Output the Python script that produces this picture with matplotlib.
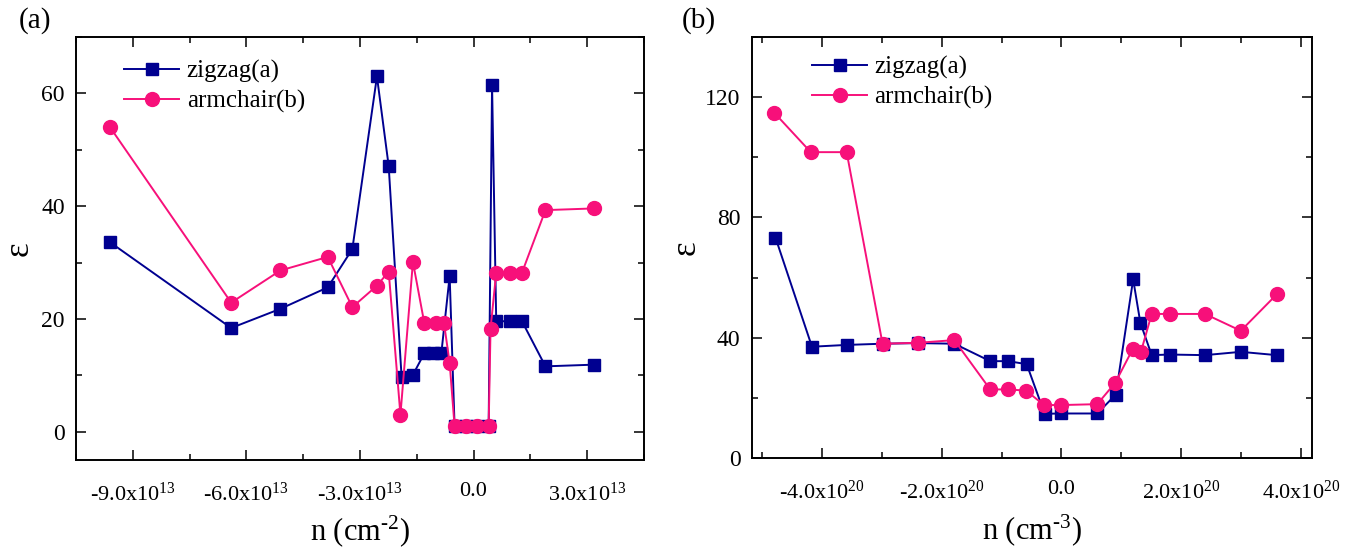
import matplotlib
matplotlib.use('Agg')
import matplotlib.pyplot as plt
from matplotlib.ticker import MultipleLocator, FixedLocator

plt.rcParams['font.family'] = ['Liberation Serif', 'DejaVu Serif']
plt.rcParams['mathtext.fontset'] = 'custom'
plt.rcParams['mathtext.rm'] = 'Liberation Serif'
plt.rcParams['mathtext.it'] = 'Liberation Serif:italic'

# panel (a): n in units of 1e13 cm^-2
zig_a_n = [-9.6, -6.4, -5.1, -3.85, -3.2, -2.55, -2.24, -1.9, -1.6, -1.3, -1.07, -0.85,
           -0.63, -0.5, -0.2, 0.1, 0.4, 0.49, 0.6, 0.97, 1.28, 1.9, 3.18]
zig_a_eps = [33.6, 18.4, 21.8, 25.6, 32.4, 63.0, 47.1, 9.8, 10.1, 13.9, 13.9, 13.9,
             27.6, 1.0, 1.0, 1.0, 1.0, 61.5, 19.6, 19.6, 19.6, 11.6, 11.9]
arm_a_n = [-9.6, -6.4, -5.1, -3.85, -3.2, -2.55, -2.24, -1.93, -1.6, -1.3, -1.0, -0.78,
           -0.63, -0.5, -0.2, 0.1, 0.4, 0.45, 0.6, 0.97, 1.28, 1.9, 3.18]
arm_a_eps = [54.0, 22.9, 28.6, 31.0, 22.1, 25.9, 28.4, 3.0, 30.1, 19.3, 19.3, 19.3,
             12.2, 1.0, 1.0, 1.0, 1.0, 18.3, 28.2, 28.2, 28.2, 39.3, 39.6]

# panel (b): n in units of 1e20 cm^-3
zig_b_n = [-4.78, -4.17, -3.59, -2.99, -2.39, -1.79, -1.19, -0.89, -0.58, -0.28, 0.0,
           0.6, 0.91, 1.2, 1.32, 1.51, 1.81, 2.4, 3.0, 3.6]
zig_b_eps = [73.3, 37.0, 37.6, 38.0, 38.2, 38.0, 32.2, 32.2, 31.2, 14.7, 14.8,
             14.8, 21.1, 59.4, 45.0, 34.2, 34.4, 34.2, 35.3, 34.2]
arm_b_n = [-4.8, -4.19, -3.59, -2.99, -2.4, -1.79, -1.19, -0.89, -0.59, -0.29, 0.0,
           0.6, 0.9, 1.19, 1.33, 1.51, 1.81, 2.4, 3.0, 3.6]
arm_b_eps = [114.8, 101.7, 101.7, 38.0, 38.3, 39.2, 22.8, 22.8, 22.4, 17.6, 17.6,
             17.9, 25.0, 36.1, 35.3, 47.9, 47.9, 47.9, 42.3, 54.4]

xticks_a = [-9, -6, -3, 0, 3]
xlabels_a = ['-9.0x10$^{13}$', '-6.0x10$^{13}$', '-3.0x10$^{13}$', '0.0', '3.0x10$^{13}$']
xticks_b = [-4, -2, 0, 2, 4]
xlabels_b = ['-4.0x10$^{20}$', '-2.0x10$^{20}$', '0.0', '2.0x10$^{20}$', '4.0x10$^{20}$']

blue = '#000090'
pink = '#f7107a'

fig = plt.figure(figsize=(13.61, 5.51), dpi=100)
ax1 = fig.add_axes([0.0558, 0.1652, 0.4173, 0.7677])
ax2 = fig.add_axes([0.5522, 0.1688, 0.4118, 0.7641])


def draw(ax, zn, ze, an, ae):
    ax.plot(zn, ze, '-s', color=blue, lw=1.4, ms=9, label='zigzag(a)')
    ax.plot(an, ae, '-o', color=pink, lw=1.4, ms=10, label='armchair(b)')
    ax.tick_params(which='both', direction='in', top=True, right=True, labelsize=17)
    ax.tick_params(which='major', length=7, width=1.1)
    ax.tick_params(which='minor', length=4, width=1.1)
    ax.tick_params(axis='x', which='major', pad=16, labelsize=16)
    ax.tick_params(axis='y', which='major', pad=8)
    for s in ax.spines.values():
        s.set_linewidth(1.4)
    ax.legend(loc='upper left', frameon=False, fontsize=18, handlelength=2.2,
              handletextpad=0.3, labelspacing=0.28, borderaxespad=0, borderpad=0)


draw(ax1, zig_a_n, zig_a_eps, arm_a_n, arm_a_eps)
ax1.set_xlim(-10.5, 4.5)
ax1.set_ylim(-5, 70)
ax1.xaxis.set_major_locator(FixedLocator(xticks_a))
ax1.set_xticklabels(xlabels_a)
ax1.xaxis.set_minor_locator(MultipleLocator(1.5))
ax1.yaxis.set_major_locator(MultipleLocator(20))
ax1.yaxis.set_minor_locator(MultipleLocator(10))
ax1.set_xlabel('n (cm$^{\u2010 2}$)', fontsize=22, labelpad=6)
ax1.set_ylabel('ε', fontsize=25, labelpad=4)
ax1.get_legend().set_bbox_to_anchor((0.085, 0.945))

draw(ax2, zig_b_n, zig_b_eps, arm_b_n, arm_b_eps)
ax2.set_xlim(-5.18, 4.19)
ax2.set_ylim(0, 140)
ax2.xaxis.set_major_locator(FixedLocator(xticks_b))
ax2.set_xticklabels(xlabels_b)
ax2.xaxis.set_minor_locator(MultipleLocator(1))
ax2.yaxis.set_major_locator(MultipleLocator(40))
ax2.yaxis.set_minor_locator(MultipleLocator(20))
ax2.set_xlabel('n (cm$^{\u2010 3}$)', fontsize=22, labelpad=6)
ax2.set_ylabel('ε', fontsize=25, labelpad=2)
ax2.get_legend().set_bbox_to_anchor((0.108, 0.955))

fig.text(0.014, 0.95, '(a)', fontsize=21)
fig.text(0.501, 0.95, '(b)', fontsize=21)

fig.savefig('out.png', dpi=100)
